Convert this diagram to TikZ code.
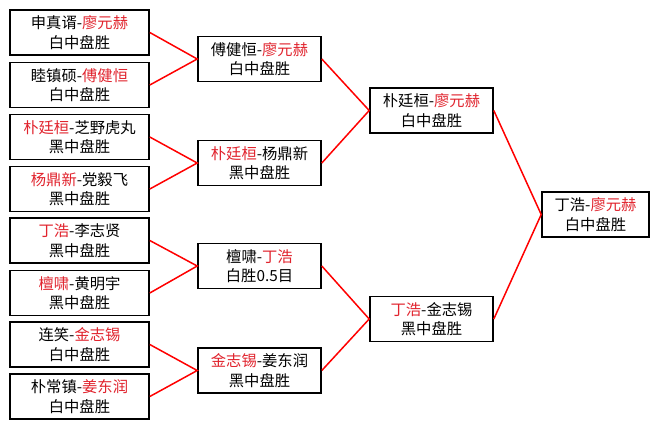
\documentclass[tikz,border=0pt]{standalone}
\usepackage{fontspec}
\setmainfont{Noto Sans CJK SC}
\definecolor{winred}{RGB}{225,35,45}
\newcommand\win[1]{\textcolor{winred}{#1}}
\begin{document}
\begin{tikzpicture}[x=1pt,y=-1pt,
  game/.style={draw, line width=1.6pt, fill=white, align=center, minimum height=45pt,
    inner sep=0pt, font=\fontsize{15.3}{19.5}\selectfont},
  link/.style={red, line width=1.5pt}]
  \fill[white] (0,0) rectangle (659,429);
  \useasboundingbox (0,0) rectangle (659,429);
  \node[game, minimum width=139pt] (ra) at (79.5,32.5) {申真谞-\win{廖元赫}\\白中盘胜};
  \node[game, minimum width=139pt] (rb) at (79.5,85) {睦镇硕-\win{傅健恒}\\白中盘胜};
  \node[game, minimum width=139pt] (rc) at (79.5,137) {\win{朴廷桓}-芝野虎丸\\黑中盘胜};
  \node[game, minimum width=139pt] (rd) at (79.5,189) {\win{杨鼎新}-党毅飞\\黑中盘胜};
  \node[game, minimum width=139pt] (re) at (79.5,240.5) {\win{丁浩}-李志贤\\黑中盘胜};
  \node[game, minimum width=139pt] (rf) at (79.5,293) {\win{檀啸}-黄明宇\\黑中盘胜};
  \node[game, minimum width=139pt] (rg) at (79.5,344.5) {连笑-\win{金志锡}\\白中盘胜};
  \node[game, minimum width=139pt] (rh) at (79.5,396.5) {朴常镇-\win{姜东润}\\白中盘胜};
  \node[game, minimum width=123pt] (qa) at (259.5,59) {傅健恒-\win{廖元赫}\\白中盘胜};
  \node[game, minimum width=123pt] (qb) at (259.5,163) {\win{朴廷桓}-杨鼎新\\黑中盘胜};
  \node[game, minimum width=123pt] (qc) at (259.5,266) {檀啸-\win{丁浩}\\白胜0.5目};
  \node[game, minimum width=123pt] (qd) at (259.5,370.5) {\win{金志锡}-姜东润\\黑中盘胜};
  \node[game, minimum width=123pt] (sa) at (431.5,110.5) {朴廷桓-\win{廖元赫}\\白中盘胜};
  \node[game, minimum width=123pt] (sb) at (431.5,319) {\win{丁浩}-金志锡\\黑中盘胜};
  \node[game, minimum width=107pt] (fin) at (595.5,214.5) {丁浩-\win{廖元赫}\\白中盘胜};
  \draw[link] (ra.east) -- (qa.west) -- (rb.east);
  \draw[link] (rc.east) -- (qb.west) -- (rd.east);
  \draw[link] (re.east) -- (qc.west) -- (rf.east);
  \draw[link] (rg.east) -- (qd.west) -- (rh.east);
  \draw[link] (qa.east) -- (sa.west) -- (qb.east);
  \draw[link] (qc.east) -- (sb.west) -- (qd.east);
  \draw[link] (sa.east) -- (fin.west) -- (sb.east);
\end{tikzpicture}
\end{document}
